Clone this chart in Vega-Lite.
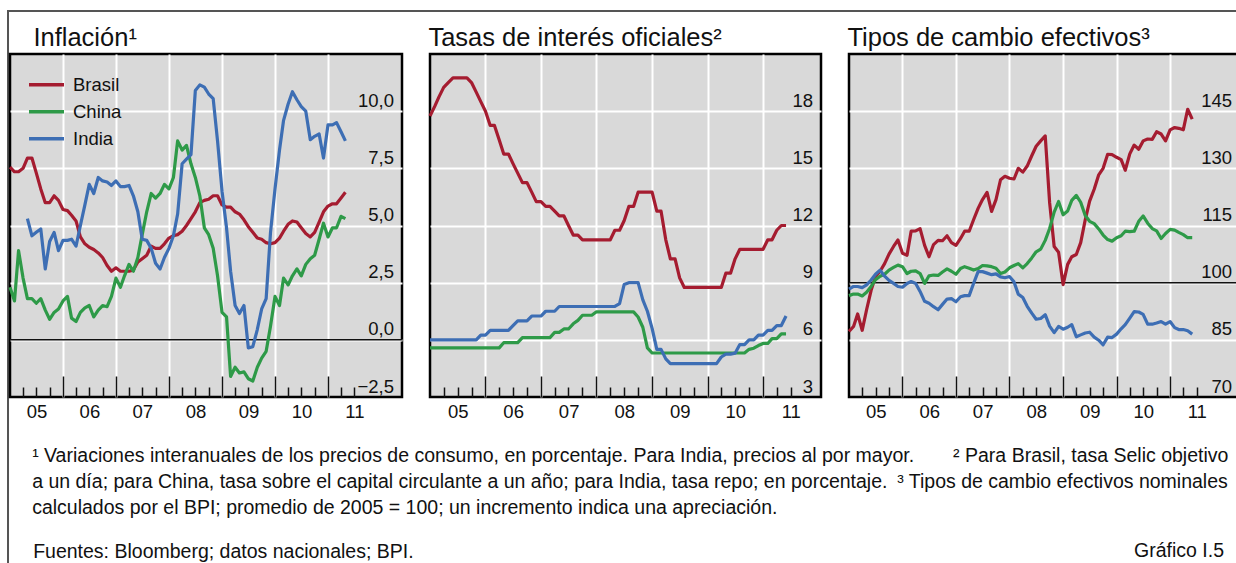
{
"$schema": "https://vega.github.io/schema/vega-lite/v6.json",
"padding": {"left": 7, "top": 0, "right": 0, "bottom": 0},
"background": "white",
"spacing": -4,
"config": {
  "font": "Liberation Sans",
  "view": {"fill": "#d9d9d9", "stroke": "#000", "strokeWidth": 2.5},
  "title": {"font": "Liberation Sans", "fontSize": 25.5, "fontWeight": "normal", "anchor": "start", "color": "#111", "offset": 3},
  "axis": {"labelFont": "Liberation Sans", "labelColor": "#111", "title": null},
  "legend": {"labelFont": "Liberation Sans", "labelColor": "#111"}
},
"datasets": {
"inf": [
{"d":"2005-01","s":"Brasil","v":7.55},{"d":"2005-02","s":"Brasil","v":7.35},{"d":"2005-03","s":"Brasil","v":7.35},{"d":"2005-04","s":"Brasil","v":7.5},{"d":"2005-05","s":"Brasil","v":7.95},{"d":"2005-06","s":"Brasil","v":7.95},{"d":"2005-07","s":"Brasil","v":7.3},{"d":"2005-08","s":"Brasil","v":6.6},{"d":"2005-09","s":"Brasil","v":6.0},{"d":"2005-10","s":"Brasil","v":6.0},{"d":"2005-11","s":"Brasil","v":6.3},{"d":"2005-12","s":"Brasil","v":6.1},
{"d":"2006-01","s":"Brasil","v":5.7},{"d":"2006-02","s":"Brasil","v":5.65},{"d":"2006-03","s":"Brasil","v":5.45},{"d":"2006-04","s":"Brasil","v":5.2},{"d":"2006-05","s":"Brasil","v":4.5},{"d":"2006-06","s":"Brasil","v":4.2},{"d":"2006-07","s":"Brasil","v":4.05},{"d":"2006-08","s":"Brasil","v":3.95},{"d":"2006-09","s":"Brasil","v":3.8},{"d":"2006-10","s":"Brasil","v":3.6},{"d":"2006-11","s":"Brasil","v":3.25},{"d":"2006-12","s":"Brasil","v":3.0},
{"d":"2007-01","s":"Brasil","v":3.15},{"d":"2007-02","s":"Brasil","v":3.0},{"d":"2007-03","s":"Brasil","v":3.0},{"d":"2007-04","s":"Brasil","v":3.0},{"d":"2007-05","s":"Brasil","v":3.05},{"d":"2007-06","s":"Brasil","v":3.4},{"d":"2007-07","s":"Brasil","v":3.55},{"d":"2007-08","s":"Brasil","v":3.7},{"d":"2007-09","s":"Brasil","v":4.1},{"d":"2007-10","s":"Brasil","v":4.0},{"d":"2007-11","s":"Brasil","v":4.0},{"d":"2007-12","s":"Brasil","v":4.2},
{"d":"2008-01","s":"Brasil","v":4.45},{"d":"2008-02","s":"Brasil","v":4.55},{"d":"2008-03","s":"Brasil","v":4.6},{"d":"2008-04","s":"Brasil","v":4.75},{"d":"2008-05","s":"Brasil","v":5.0},{"d":"2008-06","s":"Brasil","v":5.3},{"d":"2008-07","s":"Brasil","v":5.6},{"d":"2008-08","s":"Brasil","v":6.0},{"d":"2008-09","s":"Brasil","v":6.1},{"d":"2008-10","s":"Brasil","v":6.15},{"d":"2008-11","s":"Brasil","v":6.3},{"d":"2008-12","s":"Brasil","v":6.3},
{"d":"2009-01","s":"Brasil","v":5.9},{"d":"2009-02","s":"Brasil","v":5.8},{"d":"2009-03","s":"Brasil","v":5.8},{"d":"2009-04","s":"Brasil","v":5.6},{"d":"2009-05","s":"Brasil","v":5.5},{"d":"2009-06","s":"Brasil","v":5.25},{"d":"2009-07","s":"Brasil","v":4.95},{"d":"2009-08","s":"Brasil","v":4.7},{"d":"2009-09","s":"Brasil","v":4.45},{"d":"2009-10","s":"Brasil","v":4.4},{"d":"2009-11","s":"Brasil","v":4.25},{"d":"2009-12","s":"Brasil","v":4.2},
{"d":"2010-01","s":"Brasil","v":4.25},{"d":"2010-02","s":"Brasil","v":4.45},{"d":"2010-03","s":"Brasil","v":4.75},{"d":"2010-04","s":"Brasil","v":5.05},{"d":"2010-05","s":"Brasil","v":5.2},{"d":"2010-06","s":"Brasil","v":5.15},{"d":"2010-07","s":"Brasil","v":4.9},{"d":"2010-08","s":"Brasil","v":4.65},{"d":"2010-09","s":"Brasil","v":4.5},{"d":"2010-10","s":"Brasil","v":4.7},{"d":"2010-11","s":"Brasil","v":5.15},{"d":"2010-12","s":"Brasil","v":5.6},
{"d":"2011-01","s":"Brasil","v":5.85},{"d":"2011-02","s":"Brasil","v":5.95},{"d":"2011-03","s":"Brasil","v":5.95},{"d":"2011-04","s":"Brasil","v":6.2},{"d":"2011-05","s":"Brasil","v":6.45},
{"d":"2005-01","s":"China","v":2.3},{"d":"2005-02","s":"China","v":1.7},{"d":"2005-03","s":"China","v":3.9},{"d":"2005-04","s":"China","v":2.7},{"d":"2005-05","s":"China","v":1.8},{"d":"2005-06","s":"China","v":1.8},{"d":"2005-07","s":"China","v":1.6},{"d":"2005-08","s":"China","v":1.8},{"d":"2005-09","s":"China","v":1.3},{"d":"2005-10","s":"China","v":0.9},{"d":"2005-11","s":"China","v":1.2},{"d":"2005-12","s":"China","v":1.35},
{"d":"2006-01","s":"China","v":1.7},{"d":"2006-02","s":"China","v":1.9},{"d":"2006-03","s":"China","v":0.95},{"d":"2006-04","s":"China","v":0.8},{"d":"2006-05","s":"China","v":1.2},{"d":"2006-06","s":"China","v":1.4},{"d":"2006-07","s":"China","v":1.5},{"d":"2006-08","s":"China","v":1.0},{"d":"2006-09","s":"China","v":1.3},{"d":"2006-10","s":"China","v":1.5},{"d":"2006-11","s":"China","v":1.45},{"d":"2006-12","s":"China","v":1.9},
{"d":"2007-01","s":"China","v":2.7},{"d":"2007-02","s":"China","v":2.3},{"d":"2007-03","s":"China","v":2.8},{"d":"2007-04","s":"China","v":3.3},{"d":"2007-05","s":"China","v":3.0},{"d":"2007-06","s":"China","v":3.6},{"d":"2007-07","s":"China","v":4.6},{"d":"2007-08","s":"China","v":5.6},{"d":"2007-09","s":"China","v":6.4},{"d":"2007-10","s":"China","v":6.2},{"d":"2007-11","s":"China","v":6.4},{"d":"2007-12","s":"China","v":6.8},
{"d":"2008-01","s":"China","v":6.6},{"d":"2008-02","s":"China","v":7.1},{"d":"2008-03","s":"China","v":8.7},{"d":"2008-04","s":"China","v":8.3},{"d":"2008-05","s":"China","v":8.5},{"d":"2008-06","s":"China","v":7.7},{"d":"2008-07","s":"China","v":7.1},{"d":"2008-08","s":"China","v":6.3},{"d":"2008-09","s":"China","v":4.9},{"d":"2008-10","s":"China","v":4.6},{"d":"2008-11","s":"China","v":4.0},{"d":"2008-12","s":"China","v":2.8},
{"d":"2009-01","s":"China","v":1.2},{"d":"2009-02","s":"China","v":1.0},{"d":"2009-03","s":"China","v":-1.6},{"d":"2009-04","s":"China","v":-1.2},{"d":"2009-05","s":"China","v":-1.45},{"d":"2009-06","s":"China","v":-1.4},{"d":"2009-07","s":"China","v":-1.7},{"d":"2009-08","s":"China","v":-1.8},{"d":"2009-09","s":"China","v":-1.2},{"d":"2009-10","s":"China","v":-0.8},{"d":"2009-11","s":"China","v":-0.5},{"d":"2009-12","s":"China","v":0.6},
{"d":"2010-01","s":"China","v":1.9},{"d":"2010-02","s":"China","v":1.5},{"d":"2010-03","s":"China","v":2.7},{"d":"2010-04","s":"China","v":2.4},{"d":"2010-05","s":"China","v":2.8},{"d":"2010-06","s":"China","v":3.1},{"d":"2010-07","s":"China","v":2.8},{"d":"2010-08","s":"China","v":3.3},{"d":"2010-09","s":"China","v":3.55},{"d":"2010-10","s":"China","v":3.7},{"d":"2010-11","s":"China","v":4.4},{"d":"2010-12","s":"China","v":5.1},
{"d":"2011-01","s":"China","v":4.5},{"d":"2011-02","s":"China","v":4.9},{"d":"2011-03","s":"China","v":4.9},{"d":"2011-04","s":"China","v":5.4},{"d":"2011-05","s":"China","v":5.3},
{"d":"2005-05","s":"India","v":5.3},{"d":"2005-06","s":"India","v":4.55},{"d":"2005-07","s":"India","v":4.7},{"d":"2005-08","s":"India","v":4.85},{"d":"2005-09","s":"India","v":3.1},{"d":"2005-10","s":"India","v":4.3},{"d":"2005-11","s":"India","v":4.7},{"d":"2005-12","s":"India","v":3.9},
{"d":"2006-01","s":"India","v":4.35},{"d":"2006-02","s":"India","v":4.35},{"d":"2006-03","s":"India","v":4.4},{"d":"2006-04","s":"India","v":4.1},{"d":"2006-05","s":"India","v":5.0},{"d":"2006-06","s":"India","v":5.9},{"d":"2006-07","s":"India","v":6.8},{"d":"2006-08","s":"India","v":6.4},{"d":"2006-09","s":"India","v":7.1},{"d":"2006-10","s":"India","v":6.95},{"d":"2006-11","s":"India","v":6.9},{"d":"2006-12","s":"India","v":6.75},
{"d":"2007-01","s":"India","v":6.95},{"d":"2007-02","s":"India","v":6.7},{"d":"2007-03","s":"India","v":6.7},{"d":"2007-04","s":"India","v":6.75},{"d":"2007-05","s":"India","v":6.3},{"d":"2007-06","s":"India","v":5.6},{"d":"2007-07","s":"India","v":4.4},{"d":"2007-08","s":"India","v":4.35},{"d":"2007-09","s":"India","v":4.0},{"d":"2007-10","s":"India","v":3.35},{"d":"2007-11","s":"India","v":3.1},{"d":"2007-12","s":"India","v":3.6},
{"d":"2008-01","s":"India","v":4.0},{"d":"2008-02","s":"India","v":4.55},{"d":"2008-03","s":"India","v":5.5},{"d":"2008-04","s":"India","v":7.7},{"d":"2008-05","s":"India","v":7.9},{"d":"2008-06","s":"India","v":8.1},{"d":"2008-07","s":"India","v":10.9},{"d":"2008-08","s":"India","v":11.15},{"d":"2008-09","s":"India","v":11.05},{"d":"2008-10","s":"India","v":10.75},{"d":"2008-11","s":"India","v":10.55},{"d":"2008-12","s":"India","v":8.7},
{"d":"2009-01","s":"India","v":6.5},{"d":"2009-02","s":"India","v":4.9},{"d":"2009-03","s":"India","v":3.0},{"d":"2009-04","s":"India","v":1.5},{"d":"2009-05","s":"India","v":1.15},{"d":"2009-06","s":"India","v":1.5},{"d":"2009-07","s":"India","v":-0.35},{"d":"2009-08","s":"India","v":-0.3},{"d":"2009-09","s":"India","v":0.45},{"d":"2009-10","s":"India","v":1.35},{"d":"2009-11","s":"India","v":1.8},{"d":"2009-12","s":"India","v":4.7},
{"d":"2010-01","s":"India","v":6.6},{"d":"2010-02","s":"India","v":8.3},{"d":"2010-03","s":"India","v":9.6},{"d":"2010-04","s":"India","v":10.3},{"d":"2010-05","s":"India","v":10.85},{"d":"2010-06","s":"India","v":10.5},{"d":"2010-07","s":"India","v":10.2},{"d":"2010-08","s":"India","v":10.0},{"d":"2010-09","s":"India","v":8.75},{"d":"2010-10","s":"India","v":8.9},{"d":"2010-11","s":"India","v":9.0},{"d":"2010-12","s":"India","v":7.95},
{"d":"2011-01","s":"India","v":9.4},{"d":"2011-02","s":"India","v":9.4},{"d":"2011-03","s":"India","v":9.5},{"d":"2011-04","s":"India","v":9.1},{"d":"2011-05","s":"India","v":8.7}
],
"tas": [
{"d":"2005-01","s":"Brasil","v":17.75},{"d":"2005-02","s":"Brasil","v":18.25},{"d":"2005-03","s":"Brasil","v":18.75},{"d":"2005-04","s":"Brasil","v":19.25},{"d":"2005-05","s":"Brasil","v":19.5},{"d":"2005-06","s":"Brasil","v":19.75},{"d":"2005-07","s":"Brasil","v":19.75},{"d":"2005-08","s":"Brasil","v":19.75},{"d":"2005-09","s":"Brasil","v":19.75},{"d":"2005-10","s":"Brasil","v":19.5},{"d":"2005-11","s":"Brasil","v":19.0},{"d":"2005-12","s":"Brasil","v":18.5},
{"d":"2006-01","s":"Brasil","v":18.0},{"d":"2006-02","s":"Brasil","v":17.25},{"d":"2006-03","s":"Brasil","v":17.25},{"d":"2006-04","s":"Brasil","v":16.5},{"d":"2006-05","s":"Brasil","v":15.75},{"d":"2006-06","s":"Brasil","v":15.75},{"d":"2006-07","s":"Brasil","v":15.25},{"d":"2006-08","s":"Brasil","v":14.75},{"d":"2006-09","s":"Brasil","v":14.25},{"d":"2006-10","s":"Brasil","v":14.25},{"d":"2006-11","s":"Brasil","v":13.75},{"d":"2006-12","s":"Brasil","v":13.25},
{"d":"2007-01","s":"Brasil","v":13.25},{"d":"2007-02","s":"Brasil","v":13.0},{"d":"2007-03","s":"Brasil","v":13.0},{"d":"2007-04","s":"Brasil","v":12.75},{"d":"2007-05","s":"Brasil","v":12.5},{"d":"2007-06","s":"Brasil","v":12.5},{"d":"2007-07","s":"Brasil","v":12.0},{"d":"2007-08","s":"Brasil","v":11.5},{"d":"2007-09","s":"Brasil","v":11.5},{"d":"2007-10","s":"Brasil","v":11.25},{"d":"2007-11","s":"Brasil","v":11.25},{"d":"2007-12","s":"Brasil","v":11.25},
{"d":"2008-01","s":"Brasil","v":11.25},{"d":"2008-02","s":"Brasil","v":11.25},{"d":"2008-03","s":"Brasil","v":11.25},{"d":"2008-04","s":"Brasil","v":11.25},{"d":"2008-05","s":"Brasil","v":11.75},{"d":"2008-06","s":"Brasil","v":11.75},{"d":"2008-07","s":"Brasil","v":12.25},{"d":"2008-08","s":"Brasil","v":13.0},{"d":"2008-09","s":"Brasil","v":13.0},{"d":"2008-10","s":"Brasil","v":13.75},{"d":"2008-11","s":"Brasil","v":13.75},{"d":"2008-12","s":"Brasil","v":13.75},
{"d":"2009-01","s":"Brasil","v":13.75},{"d":"2009-02","s":"Brasil","v":12.75},{"d":"2009-03","s":"Brasil","v":12.75},{"d":"2009-04","s":"Brasil","v":11.25},{"d":"2009-05","s":"Brasil","v":10.25},{"d":"2009-06","s":"Brasil","v":10.25},{"d":"2009-07","s":"Brasil","v":9.25},{"d":"2009-08","s":"Brasil","v":8.75},{"d":"2009-09","s":"Brasil","v":8.75},{"d":"2009-10","s":"Brasil","v":8.75},{"d":"2009-11","s":"Brasil","v":8.75},{"d":"2009-12","s":"Brasil","v":8.75},
{"d":"2010-01","s":"Brasil","v":8.75},{"d":"2010-02","s":"Brasil","v":8.75},{"d":"2010-03","s":"Brasil","v":8.75},{"d":"2010-04","s":"Brasil","v":8.75},{"d":"2010-05","s":"Brasil","v":9.5},{"d":"2010-06","s":"Brasil","v":9.5},{"d":"2010-07","s":"Brasil","v":10.25},{"d":"2010-08","s":"Brasil","v":10.75},{"d":"2010-09","s":"Brasil","v":10.75},{"d":"2010-10","s":"Brasil","v":10.75},{"d":"2010-11","s":"Brasil","v":10.75},{"d":"2010-12","s":"Brasil","v":10.75},
{"d":"2011-01","s":"Brasil","v":10.75},{"d":"2011-02","s":"Brasil","v":11.25},{"d":"2011-03","s":"Brasil","v":11.25},{"d":"2011-04","s":"Brasil","v":11.75},{"d":"2011-05","s":"Brasil","v":12.0},{"d":"2011-06","s":"Brasil","v":12.0},
{"d":"2005-01","s":"China","v":5.58},{"d":"2005-02","s":"China","v":5.58},{"d":"2005-03","s":"China","v":5.58},{"d":"2005-04","s":"China","v":5.58},{"d":"2005-05","s":"China","v":5.58},{"d":"2005-06","s":"China","v":5.58},{"d":"2005-07","s":"China","v":5.58},{"d":"2005-08","s":"China","v":5.58},{"d":"2005-09","s":"China","v":5.58},{"d":"2005-10","s":"China","v":5.58},{"d":"2005-11","s":"China","v":5.58},{"d":"2005-12","s":"China","v":5.58},
{"d":"2006-01","s":"China","v":5.58},{"d":"2006-02","s":"China","v":5.58},{"d":"2006-03","s":"China","v":5.58},{"d":"2006-04","s":"China","v":5.58},{"d":"2006-05","s":"China","v":5.85},{"d":"2006-06","s":"China","v":5.85},{"d":"2006-07","s":"China","v":5.85},{"d":"2006-08","s":"China","v":5.85},{"d":"2006-09","s":"China","v":6.12},{"d":"2006-10","s":"China","v":6.12},{"d":"2006-11","s":"China","v":6.12},{"d":"2006-12","s":"China","v":6.12},
{"d":"2007-01","s":"China","v":6.12},{"d":"2007-02","s":"China","v":6.12},{"d":"2007-03","s":"China","v":6.12},{"d":"2007-04","s":"China","v":6.39},{"d":"2007-05","s":"China","v":6.39},{"d":"2007-06","s":"China","v":6.57},{"d":"2007-07","s":"China","v":6.57},{"d":"2007-08","s":"China","v":6.84},{"d":"2007-09","s":"China","v":7.02},{"d":"2007-10","s":"China","v":7.29},{"d":"2007-11","s":"China","v":7.29},{"d":"2007-12","s":"China","v":7.29},
{"d":"2008-01","s":"China","v":7.47},{"d":"2008-02","s":"China","v":7.47},{"d":"2008-03","s":"China","v":7.47},{"d":"2008-04","s":"China","v":7.47},{"d":"2008-05","s":"China","v":7.47},{"d":"2008-06","s":"China","v":7.47},{"d":"2008-07","s":"China","v":7.47},{"d":"2008-08","s":"China","v":7.47},{"d":"2008-09","s":"China","v":7.47},{"d":"2008-10","s":"China","v":7.2},{"d":"2008-11","s":"China","v":6.66},{"d":"2008-12","s":"China","v":5.58},
{"d":"2009-01","s":"China","v":5.31},{"d":"2009-02","s":"China","v":5.31},{"d":"2009-03","s":"China","v":5.31},{"d":"2009-04","s":"China","v":5.31},{"d":"2009-05","s":"China","v":5.31},{"d":"2009-06","s":"China","v":5.31},{"d":"2009-07","s":"China","v":5.31},{"d":"2009-08","s":"China","v":5.31},{"d":"2009-09","s":"China","v":5.31},{"d":"2009-10","s":"China","v":5.31},{"d":"2009-11","s":"China","v":5.31},{"d":"2009-12","s":"China","v":5.31},
{"d":"2010-01","s":"China","v":5.31},{"d":"2010-02","s":"China","v":5.31},{"d":"2010-03","s":"China","v":5.31},{"d":"2010-04","s":"China","v":5.31},{"d":"2010-05","s":"China","v":5.31},{"d":"2010-06","s":"China","v":5.31},{"d":"2010-07","s":"China","v":5.31},{"d":"2010-08","s":"China","v":5.31},{"d":"2010-09","s":"China","v":5.31},{"d":"2010-10","s":"China","v":5.5},{"d":"2010-11","s":"China","v":5.56},{"d":"2010-12","s":"China","v":5.7},
{"d":"2011-01","s":"China","v":5.81},{"d":"2011-02","s":"China","v":5.81},{"d":"2011-03","s":"China","v":6.06},{"d":"2011-04","s":"China","v":6.06},{"d":"2011-05","s":"China","v":6.31},{"d":"2011-06","s":"China","v":6.31},
{"d":"2005-01","s":"India","v":6.0},{"d":"2005-02","s":"India","v":6.0},{"d":"2005-03","s":"India","v":6.0},{"d":"2005-04","s":"India","v":6.0},{"d":"2005-05","s":"India","v":6.0},{"d":"2005-06","s":"India","v":6.0},{"d":"2005-07","s":"India","v":6.0},{"d":"2005-08","s":"India","v":6.0},{"d":"2005-09","s":"India","v":6.0},{"d":"2005-10","s":"India","v":6.0},{"d":"2005-11","s":"India","v":6.0},{"d":"2005-12","s":"India","v":6.25},
{"d":"2006-01","s":"India","v":6.25},{"d":"2006-02","s":"India","v":6.5},{"d":"2006-03","s":"India","v":6.5},{"d":"2006-04","s":"India","v":6.5},{"d":"2006-05","s":"India","v":6.5},{"d":"2006-06","s":"India","v":6.5},{"d":"2006-07","s":"India","v":6.75},{"d":"2006-08","s":"India","v":7.0},{"d":"2006-09","s":"India","v":7.0},{"d":"2006-10","s":"India","v":7.0},{"d":"2006-11","s":"India","v":7.25},{"d":"2006-12","s":"India","v":7.25},
{"d":"2007-01","s":"India","v":7.25},{"d":"2007-02","s":"India","v":7.5},{"d":"2007-03","s":"India","v":7.5},{"d":"2007-04","s":"India","v":7.5},{"d":"2007-05","s":"India","v":7.75},{"d":"2007-06","s":"India","v":7.75},{"d":"2007-07","s":"India","v":7.75},{"d":"2007-08","s":"India","v":7.75},{"d":"2007-09","s":"India","v":7.75},{"d":"2007-10","s":"India","v":7.75},{"d":"2007-11","s":"India","v":7.75},{"d":"2007-12","s":"India","v":7.75},
{"d":"2008-01","s":"India","v":7.75},{"d":"2008-02","s":"India","v":7.75},{"d":"2008-03","s":"India","v":7.75},{"d":"2008-04","s":"India","v":7.75},{"d":"2008-05","s":"India","v":7.75},{"d":"2008-06","s":"India","v":7.9},{"d":"2008-07","s":"India","v":8.9},{"d":"2008-08","s":"India","v":9.0},{"d":"2008-09","s":"India","v":9.0},{"d":"2008-10","s":"India","v":9.0},{"d":"2008-11","s":"India","v":8.1},{"d":"2008-12","s":"India","v":7.5},
{"d":"2009-01","s":"India","v":6.6},{"d":"2009-02","s":"India","v":5.5},{"d":"2009-03","s":"India","v":5.5},{"d":"2009-04","s":"India","v":5.0},{"d":"2009-05","s":"India","v":4.75},{"d":"2009-06","s":"India","v":4.75},{"d":"2009-07","s":"India","v":4.75},{"d":"2009-08","s":"India","v":4.75},{"d":"2009-09","s":"India","v":4.75},{"d":"2009-10","s":"India","v":4.75},{"d":"2009-11","s":"India","v":4.75},{"d":"2009-12","s":"India","v":4.75},
{"d":"2010-01","s":"India","v":4.75},{"d":"2010-02","s":"India","v":4.75},{"d":"2010-03","s":"India","v":4.75},{"d":"2010-04","s":"India","v":5.1},{"d":"2010-05","s":"India","v":5.25},{"d":"2010-06","s":"India","v":5.25},{"d":"2010-07","s":"India","v":5.3},{"d":"2010-08","s":"India","v":5.75},{"d":"2010-09","s":"India","v":5.75},{"d":"2010-10","s":"India","v":6.0},{"d":"2010-11","s":"India","v":6.0},{"d":"2010-12","s":"India","v":6.25},
{"d":"2011-01","s":"India","v":6.25},{"d":"2011-02","s":"India","v":6.5},{"d":"2011-03","s":"India","v":6.5},{"d":"2011-04","s":"India","v":6.75},{"d":"2011-05","s":"India","v":6.75},{"d":"2011-06","s":"India","v":7.25}
],
"tc": [
{"d":"2005-01","s":"Brasil","v":87.2},{"d":"2005-02","s":"Brasil","v":88.5},{"d":"2005-03","s":"Brasil","v":91.8},{"d":"2005-04","s":"Brasil","v":87.5},{"d":"2005-05","s":"Brasil","v":92.9},{"d":"2005-06","s":"Brasil","v":98.0},{"d":"2005-07","s":"Brasil","v":101.6},{"d":"2005-08","s":"Brasil","v":103.0},{"d":"2005-09","s":"Brasil","v":105.0},{"d":"2005-10","s":"Brasil","v":107.5},{"d":"2005-11","s":"Brasil","v":109.5},{"d":"2005-12","s":"Brasil","v":111.2},
{"d":"2006-01","s":"Brasil","v":107.7},{"d":"2006-02","s":"Brasil","v":107.2},{"d":"2006-03","s":"Brasil","v":113.5},{"d":"2006-04","s":"Brasil","v":113.6},{"d":"2006-05","s":"Brasil","v":114.2},{"d":"2006-06","s":"Brasil","v":109.8},{"d":"2006-07","s":"Brasil","v":106.8},{"d":"2006-08","s":"Brasil","v":110.0},{"d":"2006-09","s":"Brasil","v":111.1},{"d":"2006-10","s":"Brasil","v":111.0},{"d":"2006-11","s":"Brasil","v":112.3},{"d":"2006-12","s":"Brasil","v":110.5},
{"d":"2007-01","s":"Brasil","v":109.8},{"d":"2007-02","s":"Brasil","v":111.6},{"d":"2007-03","s":"Brasil","v":113.5},{"d":"2007-04","s":"Brasil","v":113.5},{"d":"2007-05","s":"Brasil","v":116.5},{"d":"2007-06","s":"Brasil","v":119.5},{"d":"2007-07","s":"Brasil","v":121.8},{"d":"2007-08","s":"Brasil","v":123.7},{"d":"2007-09","s":"Brasil","v":118.7},{"d":"2007-10","s":"Brasil","v":121.8},{"d":"2007-11","s":"Brasil","v":127.0},{"d":"2007-12","s":"Brasil","v":127.9},
{"d":"2008-01","s":"Brasil","v":127.4},{"d":"2008-02","s":"Brasil","v":127.2},{"d":"2008-03","s":"Brasil","v":130.0},{"d":"2008-04","s":"Brasil","v":129.0},{"d":"2008-05","s":"Brasil","v":130.6},{"d":"2008-06","s":"Brasil","v":133.3},{"d":"2008-07","s":"Brasil","v":135.8},{"d":"2008-08","s":"Brasil","v":137.2},{"d":"2008-09","s":"Brasil","v":138.5},{"d":"2008-10","s":"Brasil","v":121.0},{"d":"2008-11","s":"Brasil","v":109.5},{"d":"2008-12","s":"Brasil","v":108.0},
{"d":"2009-01","s":"Brasil","v":99.5},{"d":"2009-02","s":"Brasil","v":104.8},{"d":"2009-03","s":"Brasil","v":106.8},{"d":"2009-04","s":"Brasil","v":107.4},{"d":"2009-05","s":"Brasil","v":110.5},{"d":"2009-06","s":"Brasil","v":116.5},{"d":"2009-07","s":"Brasil","v":121.4},{"d":"2009-08","s":"Brasil","v":124.5},{"d":"2009-09","s":"Brasil","v":128.3},{"d":"2009-10","s":"Brasil","v":130.0},{"d":"2009-11","s":"Brasil","v":133.7},{"d":"2009-12","s":"Brasil","v":133.6},
{"d":"2010-01","s":"Brasil","v":132.9},{"d":"2010-02","s":"Brasil","v":132.3},{"d":"2010-03","s":"Brasil","v":129.5},{"d":"2010-04","s":"Brasil","v":133.8},{"d":"2010-05","s":"Brasil","v":136.1},{"d":"2010-06","s":"Brasil","v":135.0},{"d":"2010-07","s":"Brasil","v":137.2},{"d":"2010-08","s":"Brasil","v":137.7},{"d":"2010-09","s":"Brasil","v":137.6},{"d":"2010-10","s":"Brasil","v":139.6},{"d":"2010-11","s":"Brasil","v":139.0},{"d":"2010-12","s":"Brasil","v":137.2},
{"d":"2011-01","s":"Brasil","v":140.1},{"d":"2011-02","s":"Brasil","v":140.7},{"d":"2011-03","s":"Brasil","v":140.5},{"d":"2011-04","s":"Brasil","v":140.1},{"d":"2011-05","s":"Brasil","v":145.5},{"d":"2011-06","s":"Brasil","v":142.9},
{"d":"2005-01","s":"China","v":96.6},{"d":"2005-02","s":"China","v":97.0},{"d":"2005-03","s":"China","v":97.0},{"d":"2005-04","s":"China","v":96.5},{"d":"2005-05","s":"China","v":97.5},{"d":"2005-06","s":"China","v":99.0},{"d":"2005-07","s":"China","v":100.8},{"d":"2005-08","s":"China","v":101.7},{"d":"2005-09","s":"China","v":102.2},{"d":"2005-10","s":"China","v":103.3},{"d":"2005-11","s":"China","v":104.0},{"d":"2005-12","s":"China","v":104.6},
{"d":"2006-01","s":"China","v":104.2},{"d":"2006-02","s":"China","v":102.4},{"d":"2006-03","s":"China","v":103.0},{"d":"2006-04","s":"China","v":103.1},{"d":"2006-05","s":"China","v":102.4},{"d":"2006-06","s":"China","v":99.8},{"d":"2006-07","s":"China","v":101.8},{"d":"2006-08","s":"China","v":102.0},{"d":"2006-09","s":"China","v":101.9},{"d":"2006-10","s":"China","v":102.8},{"d":"2006-11","s":"China","v":103.6},{"d":"2006-12","s":"China","v":103.0},
{"d":"2007-01","s":"China","v":102.2},{"d":"2007-02","s":"China","v":103.7},{"d":"2007-03","s":"China","v":104.2},{"d":"2007-04","s":"China","v":103.8},{"d":"2007-05","s":"China","v":103.3},{"d":"2007-06","s":"China","v":103.7},{"d":"2007-07","s":"China","v":104.5},{"d":"2007-08","s":"China","v":104.4},{"d":"2007-09","s":"China","v":104.2},{"d":"2007-10","s":"China","v":103.8},{"d":"2007-11","s":"China","v":102.4},{"d":"2007-12","s":"China","v":102.8},
{"d":"2008-01","s":"China","v":103.9},{"d":"2008-02","s":"China","v":104.5},{"d":"2008-03","s":"China","v":105.0},{"d":"2008-04","s":"China","v":103.9},{"d":"2008-05","s":"China","v":105.0},{"d":"2008-06","s":"China","v":106.5},{"d":"2008-07","s":"China","v":108.1},{"d":"2008-08","s":"China","v":108.8},{"d":"2008-09","s":"China","v":111.1},{"d":"2008-10","s":"China","v":114.2},{"d":"2008-11","s":"China","v":118.5},{"d":"2008-12","s":"China","v":121.3},
{"d":"2009-01","s":"China","v":117.8},{"d":"2009-02","s":"China","v":118.8},{"d":"2009-03","s":"China","v":121.6},{"d":"2009-04","s":"China","v":122.9},{"d":"2009-05","s":"China","v":121.1},{"d":"2009-06","s":"China","v":117.6},{"d":"2009-07","s":"China","v":116.1},{"d":"2009-08","s":"China","v":115.5},{"d":"2009-09","s":"China","v":114.1},{"d":"2009-10","s":"China","v":112.5},{"d":"2009-11","s":"China","v":111.3},{"d":"2009-12","s":"China","v":110.9},
{"d":"2010-01","s":"China","v":111.8},{"d":"2010-02","s":"China","v":112.3},{"d":"2010-03","s":"China","v":113.5},{"d":"2010-04","s":"China","v":113.4},{"d":"2010-05","s":"China","v":113.5},{"d":"2010-06","s":"China","v":116.1},{"d":"2010-07","s":"China","v":117.5},{"d":"2010-08","s":"China","v":115.6},{"d":"2010-09","s":"China","v":114.2},{"d":"2010-10","s":"China","v":113.6},{"d":"2010-11","s":"China","v":111.6},{"d":"2010-12","s":"China","v":112.9},
{"d":"2011-01","s":"China","v":114.0},{"d":"2011-02","s":"China","v":113.8},{"d":"2011-03","s":"China","v":113.2},{"d":"2011-04","s":"China","v":112.6},{"d":"2011-05","s":"China","v":111.8},{"d":"2011-06","s":"China","v":111.8},
{"d":"2005-01","s":"India","v":98.3},{"d":"2005-02","s":"India","v":99.0},{"d":"2005-03","s":"India","v":99.0},{"d":"2005-04","s":"India","v":98.7},{"d":"2005-05","s":"India","v":99.4},{"d":"2005-06","s":"India","v":100.7},{"d":"2005-07","s":"India","v":102.2},{"d":"2005-08","s":"India","v":103.3},{"d":"2005-09","s":"India","v":101.7},{"d":"2005-10","s":"India","v":100.6},{"d":"2005-11","s":"India","v":99.8},{"d":"2005-12","s":"India","v":99.0},
{"d":"2006-01","s":"India","v":98.8},{"d":"2006-02","s":"India","v":99.8},{"d":"2006-03","s":"India","v":100.3},{"d":"2006-04","s":"India","v":99.8},{"d":"2006-05","s":"India","v":97.7},{"d":"2006-06","s":"India","v":95.1},{"d":"2006-07","s":"India","v":94.6},{"d":"2006-08","s":"India","v":93.7},{"d":"2006-09","s":"India","v":92.9},{"d":"2006-10","s":"India","v":94.3},{"d":"2006-11","s":"India","v":95.7},{"d":"2006-12","s":"India","v":95.8},
{"d":"2007-01","s":"India","v":95.0},{"d":"2007-02","s":"India","v":96.3},{"d":"2007-03","s":"India","v":96.6},{"d":"2007-04","s":"India","v":96.6},{"d":"2007-05","s":"India","v":99.8},{"d":"2007-06","s":"India","v":102.9},{"d":"2007-07","s":"India","v":102.9},{"d":"2007-08","s":"India","v":102.5},{"d":"2007-09","s":"India","v":102.1},{"d":"2007-10","s":"India","v":102.3},{"d":"2007-11","s":"India","v":101.5},{"d":"2007-12","s":"India","v":101.3},
{"d":"2008-01","s":"India","v":101.6},{"d":"2008-02","s":"India","v":100.2},{"d":"2008-03","s":"India","v":97.0},{"d":"2008-04","s":"India","v":96.1},{"d":"2008-05","s":"India","v":93.8},{"d":"2008-06","s":"India","v":92.0},{"d":"2008-07","s":"India","v":90.4},{"d":"2008-08","s":"India","v":90.6},{"d":"2008-09","s":"India","v":91.6},{"d":"2008-10","s":"India","v":88.6},{"d":"2008-11","s":"India","v":86.9},{"d":"2008-12","s":"India","v":88.5},
{"d":"2009-01","s":"India","v":87.8},{"d":"2009-02","s":"India","v":88.3},{"d":"2009-03","s":"India","v":89.0},{"d":"2009-04","s":"India","v":85.8},{"d":"2009-05","s":"India","v":86.3},{"d":"2009-06","s":"India","v":86.8},{"d":"2009-07","s":"India","v":87.0},{"d":"2009-08","s":"India","v":85.7},{"d":"2009-09","s":"India","v":84.9},{"d":"2009-10","s":"India","v":83.7},{"d":"2009-11","s":"India","v":85.7},{"d":"2009-12","s":"India","v":85.6},
{"d":"2010-01","s":"India","v":86.5},{"d":"2010-02","s":"India","v":87.9},{"d":"2010-03","s":"India","v":89.0},{"d":"2010-04","s":"India","v":90.7},{"d":"2010-05","s":"India","v":92.4},{"d":"2010-06","s":"India","v":92.3},{"d":"2010-07","s":"India","v":91.7},{"d":"2010-08","s":"India","v":89.1},{"d":"2010-09","s":"India","v":89.1},{"d":"2010-10","s":"India","v":89.4},{"d":"2010-11","s":"India","v":89.8},{"d":"2010-12","s":"India","v":89.1},
{"d":"2011-01","s":"India","v":89.8},{"d":"2011-02","s":"India","v":88.2},{"d":"2011-03","s":"India","v":87.7},{"d":"2011-04","s":"India","v":87.7},{"d":"2011-05","s":"India","v":87.4},{"d":"2011-06","s":"India","v":86.5}
]
},
"title": {"text": "Gráfico I.5", "orient": "bottom", "anchor": "end", "fontSize": 19.5, "offset": -33, "dx": -27},
"hconcat": [
 {"width": 0.01, "height": 563, "view": {"stroke": "#555", "strokeWidth": 2, "fill": null}, "data": {"values": []}, "mark": "rule", "encoding": {}},
 {"spacing": 11,
  "title": {"text": "Fuentes: Bloomberg; datos nacionales; BPI.", "orient": "bottom", "anchor": "start", "fontSize": 19.5, "offset": 26, "dx": 26},
  "vconcat": [
   {"width": 1240, "height": 0.01, "title": {"text": " ", "fontSize": 10, "offset": 0}, "view": {"stroke": "#555", "strokeWidth": 2, "fill": null}, "data": {"values": []}, "mark": "rule", "encoding": {}},
   {"spacing": 23,
    "title": {"text": ["¹ Variaciones interanuales de los precios de consumo, en porcentaje. Para India, precios al por mayor.\u2003\u2003² Para Brasil, tasa Selic objetivo", "a un día; para China, tasa sobre el capital circulante a un año; para India, tasa repo; en porcentaje.\u2002³ Tipos de cambio efectivos nominales", "calculados por el BPI; promedio de 2005 = 100; un incremento indica una apreciación."], "orient": "bottom", "anchor": "start", "fontSize": 19.5, "lineHeight": 26, "offset": 25, "dx": 25},
    "resolve": {"scale": {"color": "independent"}, "legend": {"color": "independent"}},
    "hconcat": [
     {"width": 392, "height": 343,
      "title": {"text": "Inflación¹", "dx": 25},
      "data": {"name": "inf"},
      "layer": [
       {"data": {"values": [{}]}, "mark": {"type": "rule", "color": "#111", "strokeWidth": 1.5}, "encoding": {"y": {"datum": 0, "type": "quantitative", "axis": null}}},
       {"transform": [{"filter": "datum.s === 'Brasil'"}], "mark": {"type": "line", "strokeWidth": 3.2, "strokeJoin": "round"},
        "encoding": {
         "x": {"field": "d", "type": "temporal", "scale": {"type": "utc", "nice": false, "domain": [{"year": 2005, "month": 1, "date": 1, "utc": true}, {"year": 2012, "month": 5, "date": 25, "utc": true}]},
               "axis": {"orient": "bottom", "values": [{"year": 2006, "month": 1, "date": 1, "utc": true}, {"year": 2007, "month": 1, "date": 1, "utc": true}, {"year": 2008, "month": 1, "date": 1, "utc": true}, {"year": 2009, "month": 1, "date": 1, "utc": true}, {"year": 2010, "month": 1, "date": 1, "utc": true}, {"year": 2011, "month": 1, "date": 1, "utc": true}], "grid": true, "gridColor": "white", "gridWidth": 2, "gridOpacity": 1, "ticks": true, "tickSize": -21, "tickColor": "#111", "tickWidth": 1.5, "labels": false, "domain": false}},
         "y": {"field": "v", "type": "quantitative", "scale": {"domain": [-2.5, 12.5], "nice": false, "zero": false},
               "axis": {"orient": "left", "values": [0, 2.5, 5, 7.5, 10], "grid": true, "gridColor": "white", "gridWidth": 2, "gridOpacity": 1, "ticks": false, "labels": false, "domain": false}},
         "color": {"field": "s", "type": "nominal", "scale": {"domain": ["Brasil", "China", "India"], "range": ["#a51c30", "#2e9a48", "#3d6eb4"]},
                   "legend": {"orient": "none", "legendX": 17, "legendY": 18.5, "title": null, "symbolType": "stroke", "symbolSize": 1225, "symbolStrokeWidth": 3.5, "labelFontSize": 18.5, "labelOffset": 7, "clipHeight": 24.5, "rowPadding": 2, "padding": 0}}
        }},
       {"transform": [{"filter": "datum.s === 'China'"}], "mark": {"type": "line", "strokeWidth": 3.2, "strokeJoin": "round"},
        "encoding": {
         "x": {"field": "d", "type": "temporal", "scale": {"type": "utc", "nice": false, "domain": [{"year": 2005, "month": 1, "date": 1, "utc": true}, {"year": 2012, "month": 5, "date": 25, "utc": true}]},
               "axis": {"orient": "bottom", "values": [{"year": 2005, "month": 4, "date": 1, "utc": true}, {"year": 2005, "month": 7, "date": 1, "utc": true}, {"year": 2005, "month": 10, "date": 1, "utc": true}, {"year": 2006, "month": 4, "date": 1, "utc": true}, {"year": 2006, "month": 7, "date": 1, "utc": true}, {"year": 2006, "month": 10, "date": 1, "utc": true}, {"year": 2007, "month": 4, "date": 1, "utc": true}, {"year": 2007, "month": 7, "date": 1, "utc": true}, {"year": 2007, "month": 10, "date": 1, "utc": true}, {"year": 2008, "month": 4, "date": 1, "utc": true}, {"year": 2008, "month": 7, "date": 1, "utc": true}, {"year": 2008, "month": 10, "date": 1, "utc": true}, {"year": 2009, "month": 4, "date": 1, "utc": true}, {"year": 2009, "month": 7, "date": 1, "utc": true}, {"year": 2009, "month": 10, "date": 1, "utc": true}, {"year": 2010, "month": 4, "date": 1, "utc": true}, {"year": 2010, "month": 7, "date": 1, "utc": true}, {"year": 2010, "month": 10, "date": 1, "utc": true}, {"year": 2011, "month": 4, "date": 1, "utc": true}, {"year": 2011, "month": 7, "date": 1, "utc": true}], "grid": false, "ticks": true, "tickSize": -10, "tickColor": "#111", "tickWidth": 1.5, "labels": false, "domain": false}},
         "y": {"field": "v", "type": "quantitative", "scale": {"domain": [-2.5, 12.5], "nice": false, "zero": false},
               "axis": {"orient": "right", "values": [-2.5, 0, 2.5, 5, 7.5, 10], "grid": false, "ticks": false, "domain": false, "labelAlign": "right", "labelBaseline": "alphabetic", "labelPadding": -8.5, "labelOffset": -5, "labelFontSize": 18.5, "labelFlush": false, "labelOverlap": false, "labelExpr": "replace(format(datum.value, '.1f'), '.', ',')"}},
         "color": {"field": "s", "type": "nominal", "scale": {"domain": ["Brasil", "China", "India"], "range": ["#a51c30", "#2e9a48", "#3d6eb4"]},
                   "legend": {"orient": "none", "legendX": 17, "legendY": 18.5, "title": null, "symbolType": "stroke", "symbolSize": 1225, "symbolStrokeWidth": 3.5, "labelFontSize": 18.5, "labelOffset": 7, "clipHeight": 24.5, "rowPadding": 2, "padding": 0}}
        }},
       {"transform": [{"filter": "datum.s === 'India'"}], "mark": {"type": "line", "strokeWidth": 3.2, "strokeJoin": "round"},
        "encoding": {
         "x": {"field": "d", "type": "temporal", "scale": {"type": "utc", "nice": false, "domain": [{"year": 2005, "month": 1, "date": 1, "utc": true}, {"year": 2012, "month": 5, "date": 25, "utc": true}]},
               "axis": {"orient": "bottom", "values": [{"year": 2005, "month": 7, "date": 2, "utc": true}, {"year": 2006, "month": 7, "date": 2, "utc": true}, {"year": 2007, "month": 7, "date": 2, "utc": true}, {"year": 2008, "month": 7, "date": 2, "utc": true}, {"year": 2009, "month": 7, "date": 2, "utc": true}, {"year": 2010, "month": 7, "date": 2, "utc": true}, {"year": 2011, "month": 7, "date": 2, "utc": true}], "grid": false, "ticks": false, "domain": false, "labelPadding": 5, "labelFontSize": 18.5, "labelFlush": false, "labelOverlap": false, "labelExpr": "utcFormat(datum.value, '%y')"}},
         "y": {"field": "v", "type": "quantitative", "scale": {"domain": [-2.5, 12.5], "nice": false, "zero": false}, "axis": null},
         "color": {"field": "s", "type": "nominal", "scale": {"domain": ["Brasil", "China", "India"], "range": ["#a51c30", "#2e9a48", "#3d6eb4"]},
                   "legend": {"orient": "none", "legendX": 17, "legendY": 18.5, "title": null, "symbolType": "stroke", "symbolSize": 1225, "symbolStrokeWidth": 3.5, "labelFontSize": 18.5, "labelOffset": 7, "clipHeight": 24.5, "rowPadding": 2, "padding": 0}}
        }}
      ],
      "resolve": {"axis": {"x": "independent", "y": "independent"}}
     },
     {"width": 391, "height": 343,
      "title": {"text": "Tasas de interés oficiales²"},
      "data": {"name": "tas"},
      "layer": [
       {"transform": [{"filter": "datum.s === 'Brasil'"}], "mark": {"type": "line", "strokeWidth": 3.2, "strokeJoin": "round"},
        "encoding": {
         "x": {"field": "d", "type": "temporal", "scale": {"type": "utc", "nice": false, "domain": [{"year": 2005, "month": 1, "date": 1, "utc": true}, {"year": 2012, "month": 1, "date": 17, "utc": true}]},
               "axis": {"orient": "bottom", "values": [{"year": 2006, "month": 1, "date": 1, "utc": true}, {"year": 2007, "month": 1, "date": 1, "utc": true}, {"year": 2008, "month": 1, "date": 1, "utc": true}, {"year": 2009, "month": 1, "date": 1, "utc": true}, {"year": 2010, "month": 1, "date": 1, "utc": true}, {"year": 2011, "month": 1, "date": 1, "utc": true}], "grid": true, "gridColor": "white", "gridWidth": 2, "gridOpacity": 1, "ticks": true, "tickSize": -21, "tickColor": "#111", "tickWidth": 1.5, "labels": false, "domain": false}},
         "y": {"field": "v", "type": "quantitative", "scale": {"domain": [3, 21], "nice": false, "zero": false},
               "axis": {"orient": "left", "values": [6, 9, 12, 15, 18], "grid": true, "gridColor": "white", "gridWidth": 2, "gridOpacity": 1, "ticks": false, "labels": false, "domain": false}},
         "color": {"field": "s", "type": "nominal", "scale": {"domain": ["Brasil", "China", "India"], "range": ["#a51c30", "#2e9a48", "#3d6eb4"]}, "legend": null}
        }},
       {"transform": [{"filter": "datum.s === 'China'"}], "mark": {"type": "line", "strokeWidth": 3.2, "strokeJoin": "round"},
        "encoding": {
         "x": {"field": "d", "type": "temporal", "scale": {"type": "utc", "nice": false, "domain": [{"year": 2005, "month": 1, "date": 1, "utc": true}, {"year": 2012, "month": 1, "date": 17, "utc": true}]},
               "axis": {"orient": "bottom", "values": [{"year": 2005, "month": 4, "date": 1, "utc": true}, {"year": 2005, "month": 7, "date": 1, "utc": true}, {"year": 2005, "month": 10, "date": 1, "utc": true}, {"year": 2006, "month": 4, "date": 1, "utc": true}, {"year": 2006, "month": 7, "date": 1, "utc": true}, {"year": 2006, "month": 10, "date": 1, "utc": true}, {"year": 2007, "month": 4, "date": 1, "utc": true}, {"year": 2007, "month": 7, "date": 1, "utc": true}, {"year": 2007, "month": 10, "date": 1, "utc": true}, {"year": 2008, "month": 4, "date": 1, "utc": true}, {"year": 2008, "month": 7, "date": 1, "utc": true}, {"year": 2008, "month": 10, "date": 1, "utc": true}, {"year": 2009, "month": 4, "date": 1, "utc": true}, {"year": 2009, "month": 7, "date": 1, "utc": true}, {"year": 2009, "month": 10, "date": 1, "utc": true}, {"year": 2010, "month": 4, "date": 1, "utc": true}, {"year": 2010, "month": 7, "date": 1, "utc": true}, {"year": 2010, "month": 10, "date": 1, "utc": true}, {"year": 2011, "month": 4, "date": 1, "utc": true}, {"year": 2011, "month": 7, "date": 1, "utc": true}], "grid": false, "ticks": true, "tickSize": -10, "tickColor": "#111", "tickWidth": 1.5, "labels": false, "domain": false}},
         "y": {"field": "v", "type": "quantitative", "scale": {"domain": [3, 21], "nice": false, "zero": false},
               "axis": {"orient": "right", "values": [3, 6, 9, 12, 15, 18], "grid": false, "ticks": false, "domain": false, "labelAlign": "right", "labelBaseline": "alphabetic", "labelPadding": -8.5, "labelOffset": -5, "labelFontSize": 18.5, "labelFlush": false, "labelOverlap": false, "format": "d"}},
         "color": {"field": "s", "type": "nominal", "scale": {"domain": ["Brasil", "China", "India"], "range": ["#a51c30", "#2e9a48", "#3d6eb4"]}, "legend": null}
        }},
       {"transform": [{"filter": "datum.s === 'India'"}], "mark": {"type": "line", "strokeWidth": 3.2, "strokeJoin": "round"},
        "encoding": {
         "x": {"field": "d", "type": "temporal", "scale": {"type": "utc", "nice": false, "domain": [{"year": 2005, "month": 1, "date": 1, "utc": true}, {"year": 2012, "month": 1, "date": 17, "utc": true}]},
               "axis": {"orient": "bottom", "values": [{"year": 2005, "month": 7, "date": 2, "utc": true}, {"year": 2006, "month": 7, "date": 2, "utc": true}, {"year": 2007, "month": 7, "date": 2, "utc": true}, {"year": 2008, "month": 7, "date": 2, "utc": true}, {"year": 2009, "month": 7, "date": 2, "utc": true}, {"year": 2010, "month": 7, "date": 2, "utc": true}, {"year": 2011, "month": 7, "date": 2, "utc": true}], "grid": false, "ticks": false, "domain": false, "labelPadding": 5, "labelFontSize": 18.5, "labelFlush": false, "labelOverlap": false, "labelExpr": "utcFormat(datum.value, '%y')"}},
         "y": {"field": "v", "type": "quantitative", "scale": {"domain": [3, 21], "nice": false, "zero": false}, "axis": null},
         "color": {"field": "s", "type": "nominal", "scale": {"domain": ["Brasil", "China", "India"], "range": ["#a51c30", "#2e9a48", "#3d6eb4"]}, "legend": null}
        }}
      ],
      "resolve": {"axis": {"x": "independent", "y": "independent"}}
     },
     {"width": 391, "height": 343,
      "title": {"text": "Tipos de cambio efectivos³"},
      "data": {"name": "tc"},
      "layer": [
       {"data": {"values": [{}]}, "mark": {"type": "rule", "color": "#111", "strokeWidth": 1.5}, "encoding": {"y": {"datum": 100, "type": "quantitative", "axis": null}}},
       {"transform": [{"filter": "datum.s === 'Brasil'"}], "mark": {"type": "line", "strokeWidth": 3.2, "strokeJoin": "round"},
        "encoding": {
         "x": {"field": "d", "type": "temporal", "scale": {"type": "utc", "nice": false, "domain": [{"year": 2005, "month": 1, "date": 1, "utc": true}, {"year": 2012, "month": 4, "date": 22, "utc": true}]},
               "axis": {"orient": "bottom", "values": [{"year": 2006, "month": 1, "date": 1, "utc": true}, {"year": 2007, "month": 1, "date": 1, "utc": true}, {"year": 2008, "month": 1, "date": 1, "utc": true}, {"year": 2009, "month": 1, "date": 1, "utc": true}, {"year": 2010, "month": 1, "date": 1, "utc": true}, {"year": 2011, "month": 1, "date": 1, "utc": true}], "grid": true, "gridColor": "white", "gridWidth": 2, "gridOpacity": 1, "ticks": true, "tickSize": -21, "tickColor": "#111", "tickWidth": 1.5, "labels": false, "domain": false}},
         "y": {"field": "v", "type": "quantitative", "scale": {"domain": [70, 160], "nice": false, "zero": false},
               "axis": {"orient": "left", "values": [85, 100, 115, 130, 145], "grid": true, "gridColor": "white", "gridWidth": 2, "gridOpacity": 1, "ticks": false, "labels": false, "domain": false}},
         "color": {"field": "s", "type": "nominal", "scale": {"domain": ["Brasil", "China", "India"], "range": ["#a51c30", "#2e9a48", "#3d6eb4"]}, "legend": null}
        }},
       {"transform": [{"filter": "datum.s === 'China'"}], "mark": {"type": "line", "strokeWidth": 3.2, "strokeJoin": "round"},
        "encoding": {
         "x": {"field": "d", "type": "temporal", "scale": {"type": "utc", "nice": false, "domain": [{"year": 2005, "month": 1, "date": 1, "utc": true}, {"year": 2012, "month": 4, "date": 22, "utc": true}]},
               "axis": {"orient": "bottom", "values": [{"year": 2005, "month": 4, "date": 1, "utc": true}, {"year": 2005, "month": 7, "date": 1, "utc": true}, {"year": 2005, "month": 10, "date": 1, "utc": true}, {"year": 2006, "month": 4, "date": 1, "utc": true}, {"year": 2006, "month": 7, "date": 1, "utc": true}, {"year": 2006, "month": 10, "date": 1, "utc": true}, {"year": 2007, "month": 4, "date": 1, "utc": true}, {"year": 2007, "month": 7, "date": 1, "utc": true}, {"year": 2007, "month": 10, "date": 1, "utc": true}, {"year": 2008, "month": 4, "date": 1, "utc": true}, {"year": 2008, "month": 7, "date": 1, "utc": true}, {"year": 2008, "month": 10, "date": 1, "utc": true}, {"year": 2009, "month": 4, "date": 1, "utc": true}, {"year": 2009, "month": 7, "date": 1, "utc": true}, {"year": 2009, "month": 10, "date": 1, "utc": true}, {"year": 2010, "month": 4, "date": 1, "utc": true}, {"year": 2010, "month": 7, "date": 1, "utc": true}, {"year": 2010, "month": 10, "date": 1, "utc": true}, {"year": 2011, "month": 4, "date": 1, "utc": true}, {"year": 2011, "month": 7, "date": 1, "utc": true}], "grid": false, "ticks": true, "tickSize": -10, "tickColor": "#111", "tickWidth": 1.5, "labels": false, "domain": false}},
         "y": {"field": "v", "type": "quantitative", "scale": {"domain": [70, 160], "nice": false, "zero": false},
               "axis": {"orient": "right", "values": [70, 85, 100, 115, 130, 145], "grid": false, "ticks": false, "domain": false, "labelAlign": "right", "labelBaseline": "alphabetic", "labelPadding": -8.5, "labelOffset": -5, "labelFontSize": 18.5, "labelFlush": false, "labelOverlap": false, "format": "d"}},
         "color": {"field": "s", "type": "nominal", "scale": {"domain": ["Brasil", "China", "India"], "range": ["#a51c30", "#2e9a48", "#3d6eb4"]}, "legend": null}
        }},
       {"transform": [{"filter": "datum.s === 'India'"}], "mark": {"type": "line", "strokeWidth": 3.2, "strokeJoin": "round"},
        "encoding": {
         "x": {"field": "d", "type": "temporal", "scale": {"type": "utc", "nice": false, "domain": [{"year": 2005, "month": 1, "date": 1, "utc": true}, {"year": 2012, "month": 4, "date": 22, "utc": true}]},
               "axis": {"orient": "bottom", "values": [{"year": 2005, "month": 7, "date": 2, "utc": true}, {"year": 2006, "month": 7, "date": 2, "utc": true}, {"year": 2007, "month": 7, "date": 2, "utc": true}, {"year": 2008, "month": 7, "date": 2, "utc": true}, {"year": 2009, "month": 7, "date": 2, "utc": true}, {"year": 2010, "month": 7, "date": 2, "utc": true}, {"year": 2011, "month": 7, "date": 2, "utc": true}], "grid": false, "ticks": false, "domain": false, "labelPadding": 5, "labelFontSize": 18.5, "labelFlush": false, "labelOverlap": false, "labelExpr": "utcFormat(datum.value, '%y')"}},
         "y": {"field": "v", "type": "quantitative", "scale": {"domain": [70, 160], "nice": false, "zero": false}, "axis": null},
         "color": {"field": "s", "type": "nominal", "scale": {"domain": ["Brasil", "China", "India"], "range": ["#a51c30", "#2e9a48", "#3d6eb4"]}, "legend": null}
        }}
      ],
      "resolve": {"axis": {"x": "independent", "y": "independent"}}
     }
    ]
   }
  ]
 }
]
}
